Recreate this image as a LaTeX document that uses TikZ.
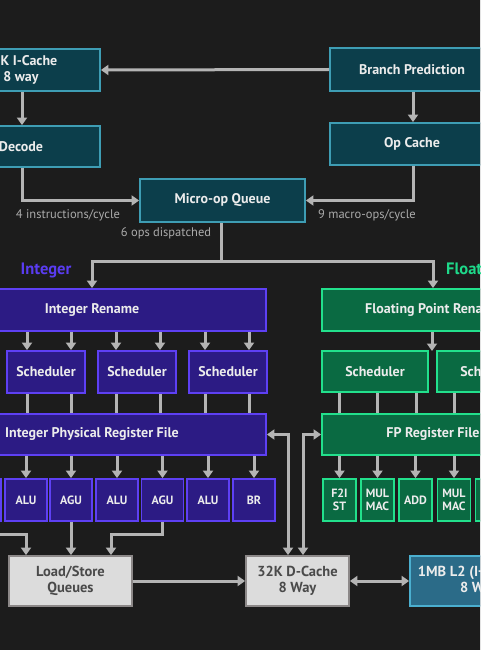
\documentclass[tikz,border=0pt]{standalone}
\usepackage{fontspec}
\setmainfont{PT Sans}
\usetikzlibrary{arrows.meta}
\definecolor{bgc}{HTML}{1C1C1C}
\definecolor{tealfill}{HTML}{0C3E4B}
\definecolor{tealline}{HTML}{3E9DB4}
\definecolor{purfill}{HTML}{2C1B84}
\definecolor{purline}{HTML}{5E40F4}
\definecolor{grnfill}{HTML}{0A6A42}
\definecolor{grnline}{HTML}{22E08C}
\definecolor{gryfill}{HTML}{DCDCDC}
\definecolor{gryline}{HTML}{8C8888}
\definecolor{grytext}{HTML}{4A4A4A}
\definecolor{l2fill}{HTML}{2B6B88}
\definecolor{l2line}{HTML}{4BAFCF}
\definecolor{arrc}{HTML}{B4B4B4}
\definecolor{boxtext}{HTML}{ECECEC}
\definecolor{labtext}{HTML}{ABABAB}
\definecolor{intlab}{HTML}{5A3CF2}
\definecolor{fplab}{HTML}{1ED98A}
\tikzset{
  box/.style={rectangle, draw, line width=1.8pt, inner sep=0pt, align=center,
    text=boxtext, font=\bfseries\fontsize{14}{16}\selectfont},
  sz/.style 2 args={minimum width=#1pt, minimum height=#2pt},
  tbox/.style={box, fill=tealfill, draw=tealline},
  pbox/.style={box, fill=purfill, draw=purline},
  gbox/.style={box, fill=grnfill, draw=grnline},
  qbox/.style={box, fill=gryfill, draw=gryline, text=grytext, font=\bfseries\fontsize{14.5}{16}\selectfont},
  lbox/.style={box, fill=l2fill, draw=l2line, font=\bfseries\fontsize{14.5}{16}\selectfont},
  ubox/.style={font=\bfseries\fontsize{12}{13}\selectfont},
  lab/.style={inner sep=0pt, text=labtext, font=\fontsize{12.5}{14}\selectfont},
  sect/.style={inner sep=0pt, font=\bfseries\fontsize{16.5}{18}\selectfont},
  arr/.style={draw=arrc, line width=3pt, -{Triangle[width=10pt,length=7.5pt]}},
  dar/.style={draw=arrc, line width=3pt, {Triangle[width=10pt,length=7.5pt]}-{Triangle[width=10pt,length=7.5pt]}},
  lin/.style={draw=arrc, line width=3pt}
}
\begin{document}
\begin{tikzpicture}[x=1pt,y=-1pt]
\useasboundingbox (0,0) rectangle (480,650);
\clip (0,0) rectangle (480,650);
\fill[bgc] (-5,-5) rectangle (485,655);

% front end
\node[tbox, sz={158}{42}] (icache) at (21,70) {32K I-Cache\\8 way};
\node[tbox, sz={164}{43}] (bp) at (412,69.5) {Branch Prediction};
\node[tbox, sz={158}{41}] (decode) at (21,146.5) {Decode};
\node[tbox, sz={164}{42}] (opc) at (412,144) {Op Cache};
\node[tbox, sz={165}{43}] (moq) at (222.5,200.5) {Micro-op Queue};

\draw[arr] (bp.west) -- (icache.east);
\draw[arr] (bp.south -| 413,0) -- (opc.north -| 413,0);
\draw[arr] (icache.south -| 22,0) -- (decode.north -| 22,0);
\draw[arr] (decode.south -| 22,0) |- (moq.west);
\draw[arr] (opc.south -| 413,0) |- (moq.east);

\node[lab] (l4) at (68,215) {4 instructions/cycle};
\node[lab] (l9) at (367,215) {9 macro-ops/cycle};
\node[lab] (l6) at (166,233) {6 ops dispatched};

\node[sect, text=intlab] (intl) at (46,270) {Integer};
\node[sect, text=fplab, anchor=west] (fpl) at (446,270) {Floating Point};

% integer
\node[pbox, sz={348}{42}] (iren) at (92,310) {Integer Rename};
\node[pbox, sz={78}{42}] (is1) at (46,372) {Scheduler};
\node[pbox, sz={78}{42}] (is2) at (137,372) {Scheduler};
\node[pbox, sz={78}{42}] (is3) at (228,372) {Scheduler};
\node[pbox, sz={348}{41}] (iprf) at (92,434.5) {Integer Physical Register File};

\node[pbox, ubox, sz={42}{42}] (u0) at (-20,500) {};
\node[pbox, ubox, sz={42}{42}] (u1) at (26,500) {ALU};
\node[pbox, ubox, sz={42}{42}] (u2) at (71,500) {AGU};
\node[pbox, ubox, sz={42}{42}] (u3) at (117,500) {ALU};
\node[pbox, ubox, sz={42}{42}] (u4) at (162.5,500) {AGU};
\node[pbox, ubox, sz={42}{42}] (u5) at (208,500) {ALU};
\node[pbox, ubox, sz={42}{42}] (u6) at (254,500) {BR};

% FP
\node[gbox, sz={222}{42}] (fren) at (433,310) {Floating Point Rename};
\node[gbox, sz={106}{41}] (fs1) at (375,371.5) {Scheduler};
\node[gbox, sz={106}{41}] (fs2) at (490,371.5) {Scheduler};
\node[gbox, sz={222}{41}] (fprf) at (433,434.5) {FP Register File};
\node[gbox, ubox, sz={33}{42}] (f1) at (339.5,500) {F2I\\ST};
\node[gbox, ubox, sz={33}{42}] (f2) at (377.5,500) {MUL\\MAC};
\node[gbox, ubox, sz={33}{42}] (f3) at (415.5,500) {ADD};
\node[gbox, ubox, sz={33}{42}] (f4) at (454,500) {MUL\\MAC};
\node[gbox, ubox, sz={33}{42}] (f5) at (492,500) {};

% memory
\node[qbox, sz={123}{50}] (lsq) at (70.5,581) {Load/Store\\Queues};
\node[qbox, sz={103}{50}] (dc) at (297.5,581) {32K D-Cache\\8 Way};
\node[lbox, sz={138}{50}] (l2) at (479,581) {1MB L2 (I+D Cache)\\8 Way};

% dispatch
\coordinate (split) at (221,261);
\draw[lin] (moq.south -| split) -- (split);
\draw[arr] (split) -| (iren.north);
\draw[arr] (split) -| (fren.north);

% integer connectors
\foreach \x/\s in {27/is1,71/is1,116/is2,160/is2,205/is3,249/is3} {
  \draw[arr] (iren.south -| \x,0) -- (\s.north -| \x,0);
  \draw[lin] (\s.south -| \x,0) -- (iprf.north -| \x,0);
}
\foreach \u in {u0,u1,u2,u3,u4,u5,u6}
  \draw[arr] (iprf.south -| \u.north) -- (\u.north);

% fp connectors
\coordinate (fgap) at (432,351);
\draw[arr] (fren.south -| fgap) -- (fgap);
\foreach \x/\s in {339/fs1,377/fs1,416/fs1,454/fs2,492/fs2,530/fs2}
  \draw[lin] (\s.south -| \x,0) -- (fprf.north -| \x,0);
\foreach \u in {f1,f2,f3,f4,f5}
  \draw[arr] (fprf.south -| \u.north) -- (\u.north);

% load/store
\coordinate (lsin) at (-10,534);
\draw[arr] (lsin) -| (lsq.north -| 26,0);
\draw[arr] (u2.south) -- (lsq.north -| u2.south);
\draw[arr] (u4.south) -- ++(0,13) -| (lsq.north -| 111,0);
\draw[arr] (lsq.east) -- (dc.west);
\draw[dar] (dc.east) -- (l2.west);
\draw[dar] (iprf.east) -| (dc.north -| 288,0);
\draw[dar] (fprf.west) -| (dc.north -| 303,0);
\end{tikzpicture}
\end{document}
